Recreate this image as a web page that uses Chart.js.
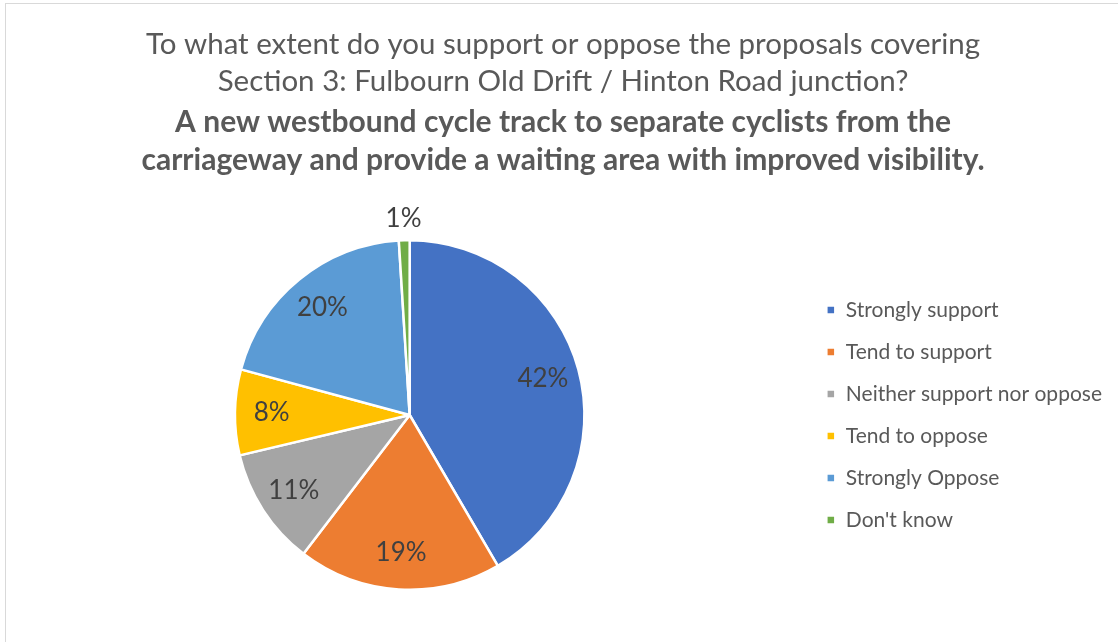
<!DOCTYPE html>
<html>
<head>
<meta charset="utf-8">
<script src="https://cdn.jsdelivr.net/npm/chart.js@4/dist/chart.umd.min.js"></script>
<style>
  html, body { margin: 0; padding: 0; background: #fff; overflow: hidden; }
  #frame { position: absolute; left: 5px; top: 3px; width: 1300px; height: 800px; border: 1px solid #d9d9d9; }
  #wrap { position: absolute; left: 0; top: 0; width: 1118px; height: 642px; }
</style>
</head>
<body>
<div id="frame"></div>
<div id="wrap"><canvas id="pie"></canvas></div>
<script>
  // Survey answers, percent of respondents
  const categories = ['Strongly support', 'Tend to support', 'Neither support nor oppose', 'Tend to oppose', 'Strongly Oppose', "Don't know"];
  const percents = [42, 19, 11, 8, 20, 1];
  const sliceColors = ['#4472C4', '#ED7D31', '#A5A5A5', '#FFC000', '#5B9BD5', '#70AD47'];

  const titleLines = [
    'To what extent do you support or oppose the proposals covering',
    'Section 3: Fulbourn Old Drift / Hinton Road junction?'
  ];
  const subtitleLines = [
    'A new westbound cycle track to separate cyclists from the',
    'carriageway and provide a waiting area with improved visibility.'
  ];

  const FONT = 'Lato, "Open Sans", sans-serif';

  // percent labels: inside the slice, small slices go outside
  const sliceLabels = {
    id: 'sliceLabels',
    afterDatasetsDraw(chart) {
      const { ctx } = chart;
      const meta = chart.getDatasetMeta(0);
      ctx.save();
      ctx.font = '26px ' + FONT;
      ctx.fillStyle = '#404040';
      ctx.textAlign = 'center';
      ctx.textBaseline = 'middle';
      meta.data.forEach((arc, i) => {
        const p = arc.getProps(['x', 'y', 'startAngle', 'endAngle', 'outerRadius'], true);
        const mid = (p.startAngle + p.endAngle) / 2;
        const v = percents[i];
        const r = v < 3 ? p.outerRadius + 22 : p.outerRadius * 0.79;
        ctx.fillText(v + '%', p.x + Math.cos(mid) * r, p.y + Math.sin(mid) * r);
      });
      ctx.restore();
    }
  };

  new Chart(document.getElementById('pie'), {
    type: 'pie',
    data: {
      labels: categories,
      datasets: [{
        data: percents,
        backgroundColor: sliceColors,
        borderColor: '#ffffff',
        borderWidth: 2.5
      }]
    },
    options: {
      responsive: true,
      maintainAspectRatio: false,
      animation: false,
      layout: { padding: { left: 14, right: 6, top: 0, bottom: 51 } },
      plugins: {
        tooltip: { enabled: false },
        title: {
          display: true,
          text: titleLines,
          color: '#595959',
          font: { family: FONT, size: 29.5, weight: 'normal', lineHeight: 1.254 },
          padding: { top: 25.5, bottom: 3.5 }
        },
        subtitle: {
          display: true,
          text: subtitleLines,
          color: '#595959',
          font: { family: FONT, size: 30, weight: 'bold', lineHeight: 1.267 },
          padding: { top: 0, bottom: 60 }
        },
        legend: {
          position: 'right',
          fullSize: false,
          labels: {
            color: '#595959',
            font: { family: FONT, size: 21 },
            boxWidth: 9,
            boxHeight: 9,
            padding: 21
          }
        }
      }
    },
    plugins: [sliceLabels]
  });
</script>
</body>
</html>
